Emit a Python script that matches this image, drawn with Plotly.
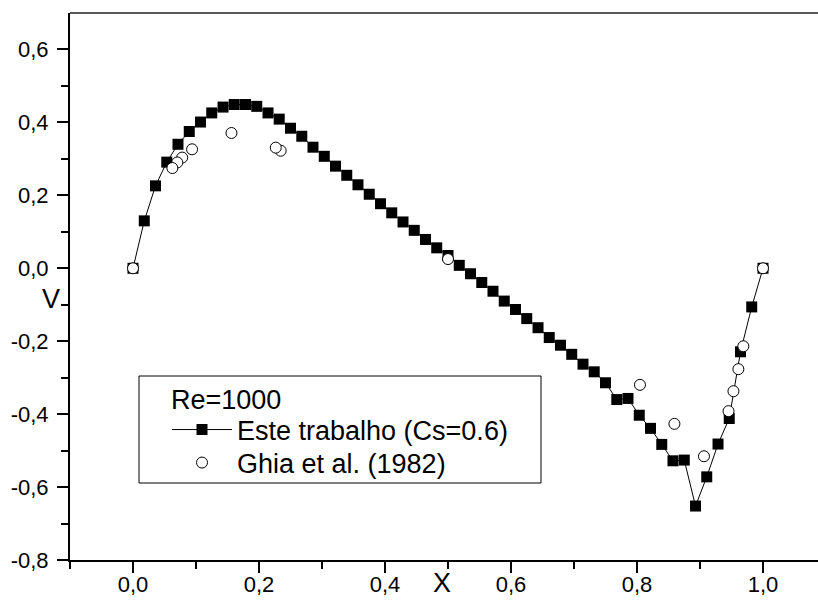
import plotly.graph_objects as go

# Simulation (Este trabalho, Cs=0.6)
x_sim = [0.0, 0.0179, 0.0357, 0.0536, 0.0714, 0.0893, 0.1071, 0.125, 0.1429, 0.1607,
         0.1786, 0.1964, 0.2143, 0.2321, 0.25, 0.2679, 0.2857, 0.3036, 0.3214, 0.3393,
         0.3571, 0.375, 0.3929, 0.4107, 0.4286, 0.4464, 0.4643, 0.4821, 0.5, 0.5179,
         0.5357, 0.5536, 0.5714, 0.5893, 0.6071, 0.625, 0.6429, 0.6607, 0.6786, 0.6964,
         0.7143, 0.7321, 0.75, 0.7679, 0.7857, 0.8036, 0.8214, 0.8393, 0.8571, 0.875,
         0.8929, 0.9107, 0.9286, 0.9464, 0.9643, 0.9821, 1.0]
v_sim = [0.0, 0.130, 0.226, 0.291, 0.340, 0.375, 0.401, 0.426, 0.442, 0.449,
         0.449, 0.444, 0.426, 0.409, 0.384, 0.362, 0.332, 0.307, 0.280, 0.255,
         0.229, 0.203, 0.177, 0.152, 0.127, 0.104, 0.079, 0.056, 0.035, 0.008,
         -0.015, -0.039, -0.063, -0.090, -0.113, -0.138, -0.163, -0.190, -0.211, -0.236,
         -0.263, -0.284, -0.314, -0.360, -0.357, -0.403, -0.439, -0.483, -0.528, -0.526,
         -0.652, -0.572, -0.482, -0.412, -0.229, -0.106, 0.0]

# Ghia et al. (1982)
x_ghia = [1.0, 0.9688, 0.9609, 0.9531, 0.9453, 0.9063, 0.8594, 0.8047, 0.5,
          0.2344, 0.2266, 0.1563, 0.0938, 0.0781, 0.0703, 0.0625, 0.0]
v_ghia = [0.0, -0.21388, -0.27669, -0.33714, -0.39188, -0.5155, -0.42665, -0.31966, 0.02526,
          0.32235, 0.33075, 0.37095, 0.32627, 0.30353, 0.29012, 0.27485, 0.0]

x_tickvals = [0.0, 0.2, 0.4, 0.6, 0.8, 1.0]
x_ticktext = ["0,0", "0,2", "0,4", "0,6", "0,8", "1,0"]
x_minor = [-0.1, 0.1, 0.3, 0.5, 0.7, 0.9]
y_tickvals = [-0.8, -0.6, -0.4, -0.2, 0.0, 0.2, 0.4, 0.6]
y_ticktext = ["-0,8", "-0,6", "-0,4", "-0,2", "0,0", "0,2", "0,4", "0,6"]
y_minor = [-0.7, -0.5, -0.3, -0.1, 0.1, 0.3, 0.5]

FONT = "Liberation Sans, Arial, sans-serif"
W, H = 818, 603
# plot area in window pixels: x 70..818, y 13..560
ML, MT, MB, MR = 70, 13, 43, 0
PW, PH = W - ML - MR, H - MT - MB
X_MAX = -0.1 + 1.2 * PW / 756.0  # keep 630 px per unit (full range -0.1..1.1 clipped)


def px2paper_x(px):
    return (px - ML) / PW


def px2paper_y(py):
    return (H - MB - py) / PH


fig = go.Figure()
fig.add_trace(go.Scatter(
    x=x_sim, y=v_sim, mode="lines+markers",
    name="Este trabalho (Cs=0.6)",
    line=dict(color="black", width=1),
    marker=dict(symbol="square", size=11, color="black", line=dict(width=0)),
    legend="legend",
))
fig.add_trace(go.Scatter(
    x=x_ghia, y=v_ghia, mode="markers",
    name="Ghia et al. (1982)",
    marker=dict(symbol="circle", size=11, color="white", line=dict(color="black", width=1)),
    legend="legend2",
))

axis_common = dict(
    showgrid=False, zeroline=False, showline=True, linecolor="black", linewidth=2,
    ticks="outside", ticklen=11, tickwidth=2, tickcolor="black",
    tickfont=dict(family=FONT, size=22, color="black"),
)

fig.update_xaxes(
    range=[-0.1, X_MAX], tickmode="array", tickvals=x_tickvals, ticktext=x_ticktext,
    minor=dict(tickmode="array", tickvals=x_minor, ticks="outside", ticklen=7,
               tickwidth=2, tickcolor="black"),
    ticklabelstandoff=-7,
    **axis_common,
)
fig.update_yaxes(
    range=[-0.8, 0.7], tickmode="array", tickvals=y_tickvals, ticktext=y_ticktext,
    minor=dict(tickmode="array", tickvals=y_minor, ticks="outside", ticklen=7,
               tickwidth=2, tickcolor="black"),
    ticklabelstandoff=4,
    **axis_common,
)

leg_common = dict(
    xanchor="left", yanchor="middle",
    bgcolor="rgba(0,0,0,0)", borderwidth=0,
    font=dict(family=FONT, size=27, color="black"),
    itemwidth=60,
)

fig.update_layout(
    width=W, height=H,
    margin=dict(l=ML, r=MR, t=MT, b=MB),
    paper_bgcolor="white", plot_bgcolor="white",
    font=dict(family=FONT, color="black"),
    showlegend=True,
    legend=dict(x=px2paper_x(167), y=px2paper_y(430), **leg_common),
    legend2=dict(x=px2paper_x(167), y=px2paper_y(463), **leg_common),
    shapes=[
        dict(type="line", xref="paper", yref="paper", x0=0, x1=1, y0=1, y1=1,
             line=dict(color="#222", width=1.5)),
        dict(type="rect", xref="paper", yref="paper",
             x0=px2paper_x(139), x1=px2paper_x(541), y0=px2paper_y(483), y1=px2paper_y(376),
             line=dict(color="black", width=1), fillcolor="white", layer="above"),
    ],
    annotations=[
        dict(text="Re=1000", xref="paper", yref="paper", x=px2paper_x(169), y=px2paper_y(400),
             xanchor="left", yanchor="middle", showarrow=False,
             font=dict(family=FONT, size=27, color="black")),
        dict(text="X", xref="paper", yref="paper", x=px2paper_x(442), y=px2paper_y(583),
             xanchor="center", yanchor="middle", showarrow=False,
             font=dict(family=FONT, size=27, color="black")),
        dict(text="V", xref="paper", yref="paper", x=px2paper_x(51), y=px2paper_y(299),
             xanchor="center", yanchor="middle", showarrow=False,
             font=dict(family=FONT, size=27, color="black")),
    ],
)

fig.write_html(
    "out.html",
    config={"displayModeBar": False},
    post_script="document.body.style.margin='0';document.body.style.overflow='hidden';",
)
